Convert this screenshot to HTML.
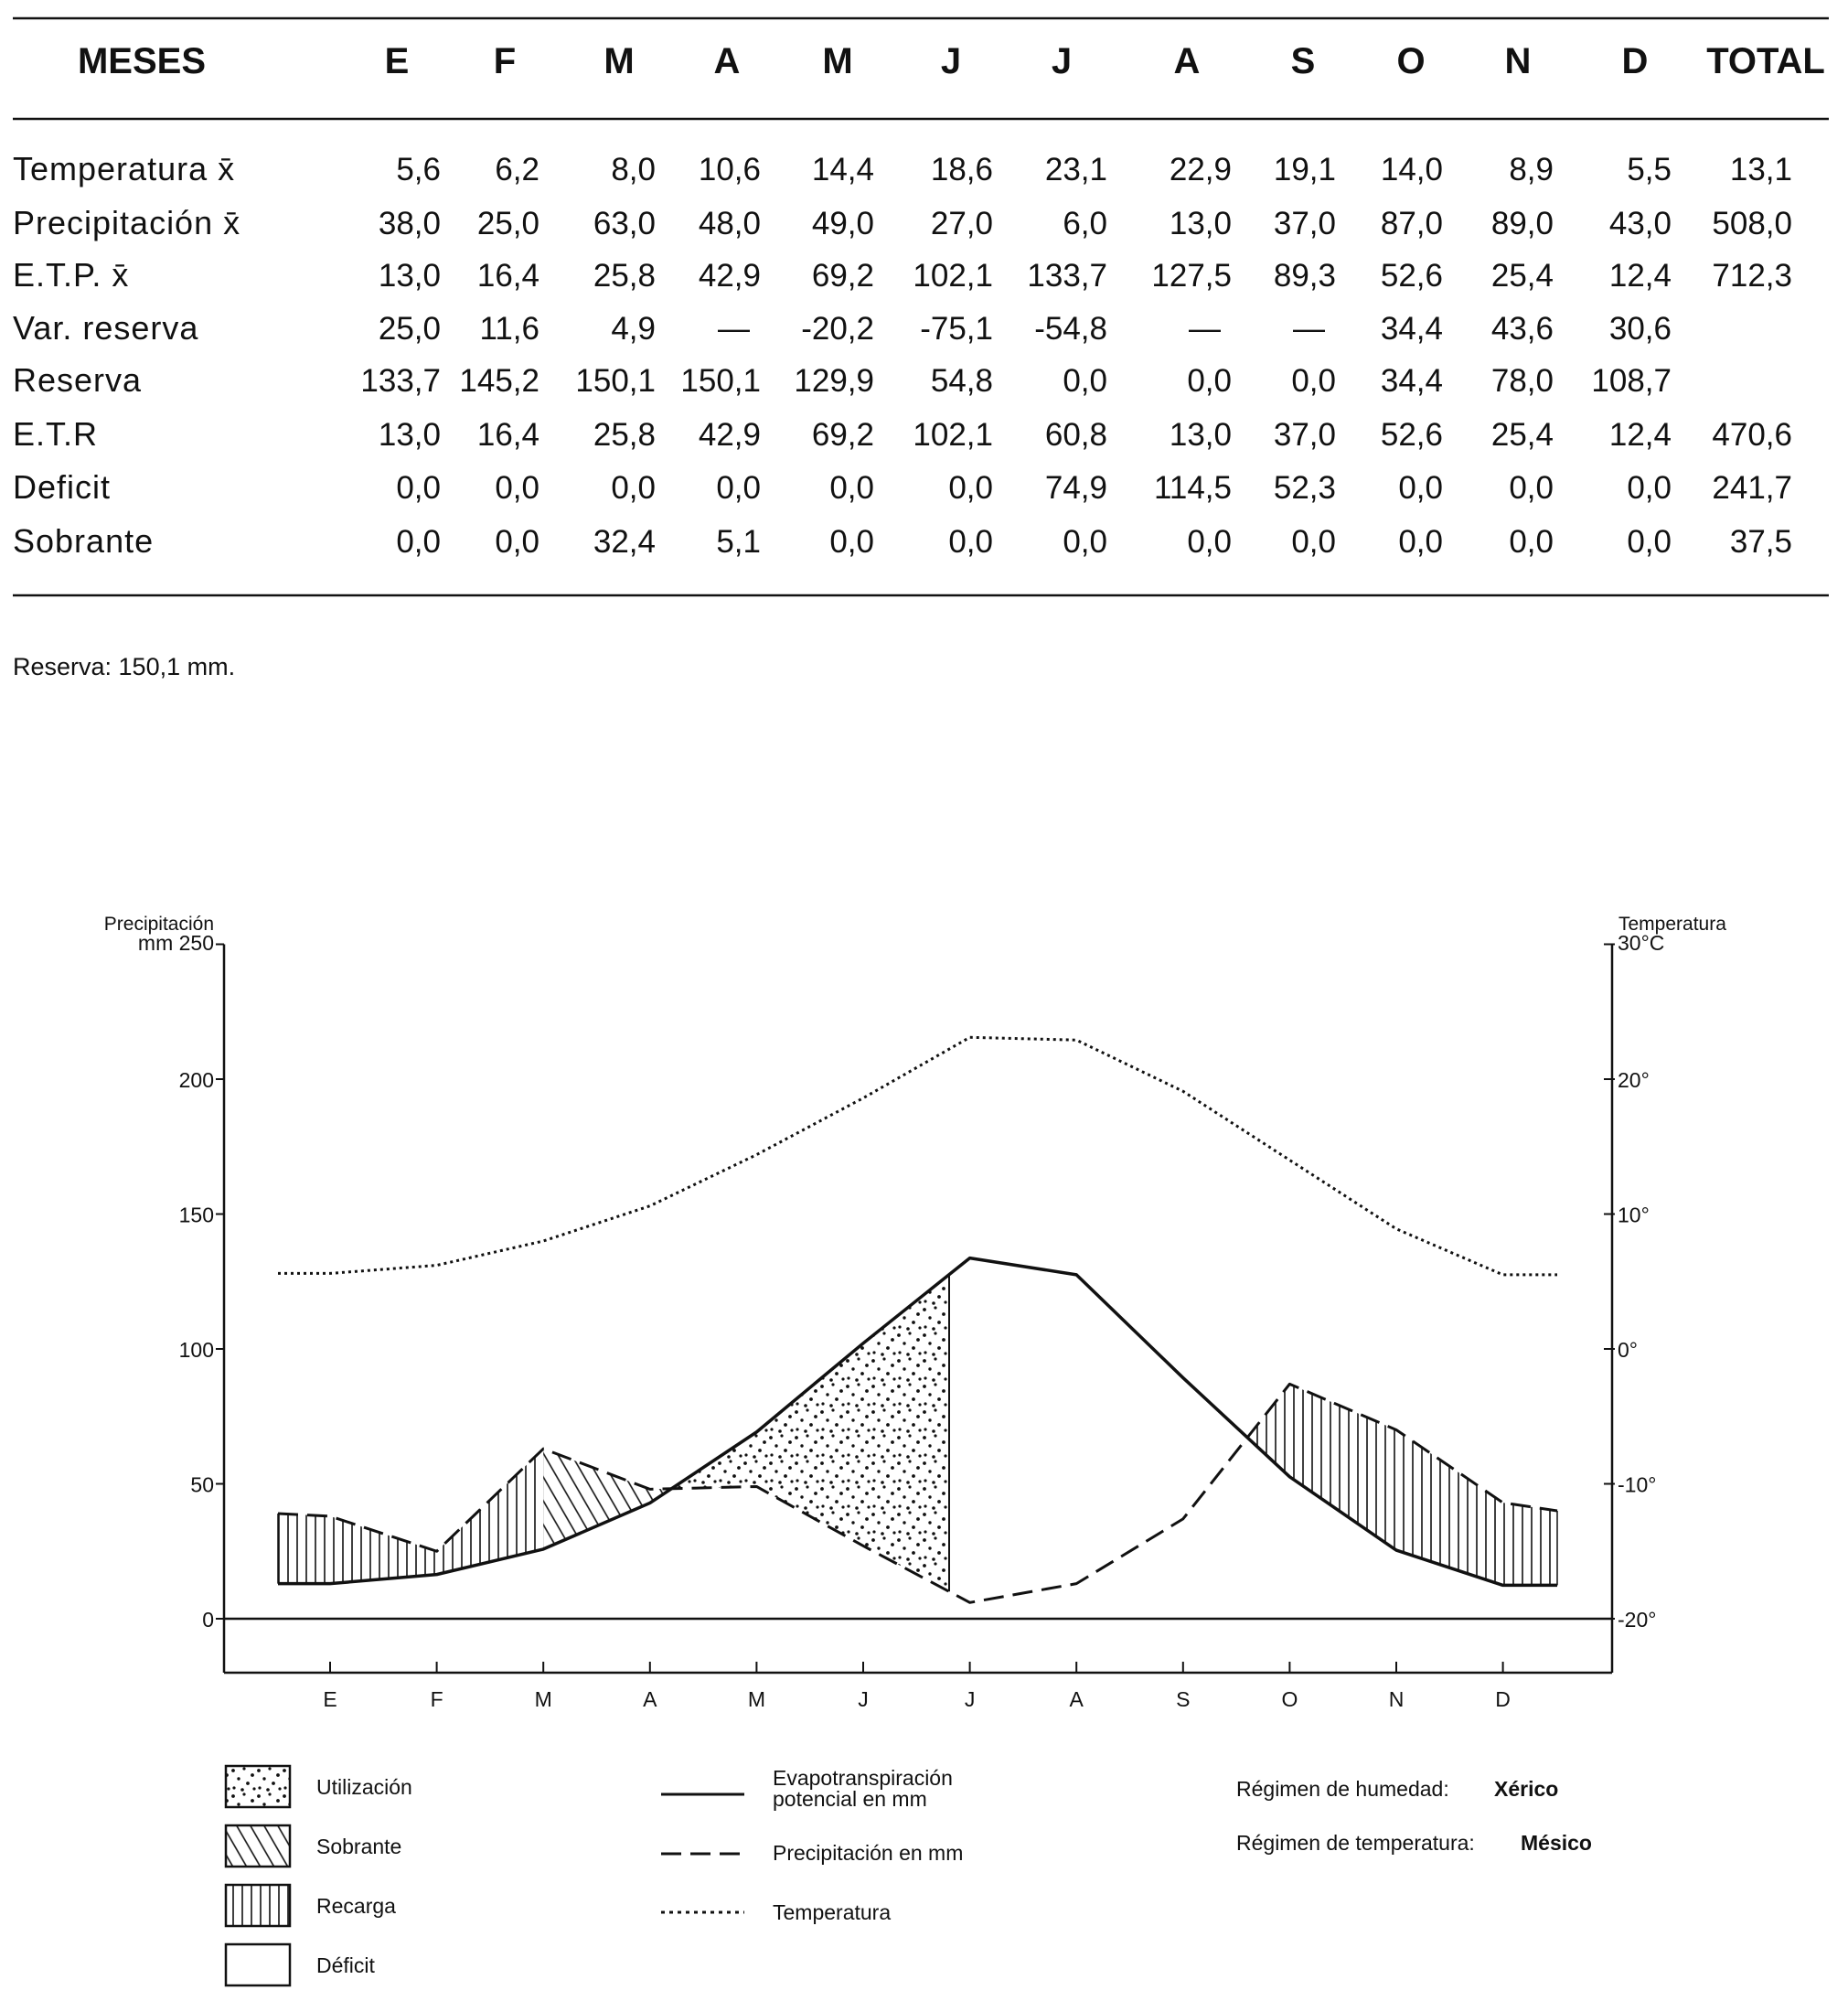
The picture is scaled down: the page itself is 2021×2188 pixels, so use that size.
<!DOCTYPE html>
<html><head><meta charset="utf-8">
<style>
html,body{margin:0;padding:0;background:#fff;}
svg{display:block;}
.t{font-family:"Liberation Sans",sans-serif;font-size:35px;fill:#111;}
.h{font-family:"Liberation Sans",sans-serif;font-size:40px;font-weight:bold;fill:#111;}
.s{font-family:"Liberation Sans",sans-serif;font-size:23px;fill:#111;}
.sb{font-family:"Liberation Sans",sans-serif;font-size:23px;font-weight:bold;fill:#111;}
</style></head>
<body>
<svg id="c" width="2021" height="2188" viewBox="0 0 2021 2188" xmlns="http://www.w3.org/2000/svg">
<defs>
<pattern id="vh" width="10" height="10" patternUnits="userSpaceOnUse"><line x1="5" y1="0" x2="5" y2="10" stroke="#111" stroke-width="1.6"/></pattern>
<pattern id="dh" width="13" height="13" patternUnits="userSpaceOnUse" patternTransform="rotate(-30)"><line x1="6" y1="0" x2="6" y2="13" stroke="#111" stroke-width="1.6"/></pattern>
<pattern id="dt" width="28" height="28" patternUnits="userSpaceOnUse">
<circle cx="3" cy="4" r="1.9" fill="#111"/><circle cx="15" cy="2" r="1.6" fill="#111"/><circle cx="24" cy="9" r="1.9" fill="#111"/><circle cx="9" cy="13" r="1.7" fill="#111"/><circle cx="19" cy="18" r="1.9" fill="#111"/><circle cx="4" cy="23" r="1.6" fill="#111"/><circle cx="13" cy="25" r="1.8" fill="#111"/><circle cx="26" cy="24" r="1.6" fill="#111"/>
</pattern>
</defs>
<g id="g"></g>
</svg>
<script>
var g=document.getElementById('g');var NS="http://www.w3.org/2000/svg";
function el(n,a,txt){var e=document.createElementNS(NS,n);for(var k in a)e.setAttribute(k,a[k]);if(txt!==undefined)e.textContent=txt;g.appendChild(e);return e;}
function tx(x,y,s,cls,anc){return el('text',{x:x,y:y,'class':cls,'text-anchor':anc||'start'},s);}
el('line',{x1:14,y1:20,x2:2000,y2:20,stroke:'#111','stroke-width':2.5});
el('line',{x1:14,y1:130,x2:2000,y2:130,stroke:'#111','stroke-width':2.5});
el('line',{x1:14,y1:651,x2:2000,y2:651,stroke:'#111','stroke-width':2.5});
tx(155,80,'MESES','h','middle');
var hx=[434,552,677,795,916,1040,1161,1298,1425,1543,1660,1788];
var hl=['E','F','M','A','M','J','J','A','S','O','N','D'];
for(var i=0;i<12;i++)tx(hx[i],80,hl[i],'h','middle');
tx(1931,80,'TOTAL','h','middle');
var cx=[482,590,717,832,956,1086,1211,1347,1461,1578,1699,1828,1960];
var rows=[
['Temperatura x\u0304','5,6 6,2 8,0 10,6 14,4 18,6 23,1 22,9 19,1 14,0 8,9 5,5 13,1'],
['Precipitación x\u0304','38,0 25,0 63,0 48,0 49,0 27,0 6,0 13,0 37,0 87,0 89,0 43,0 508,0'],
['E.T.P. x\u0304','13,0 16,4 25,8 42,9 69,2 102,1 133,7 127,5 89,3 52,6 25,4 12,4 712,3'],
['Var. reserva','25,0 11,6 4,9 — -20,2 -75,1 -54,8 — — 34,4 43,6 30,6'],
['Reserva','133,7 145,2 150,1 150,1 129,9 54,8 0,0 0,0 0,0 34,4 78,0 108,7'],
['E.T.R','13,0 16,4 25,8 42,9 69,2 102,1 60,8 13,0 37,0 52,6 25,4 12,4 470,6'],
['Deficit','0,0 0,0 0,0 0,0 0,0 0,0 74,9 114,5 52,3 0,0 0,0 0,0 241,7'],
['Sobrante','0,0 0,0 32,4 5,1 0,0 0,0 0,0 0,0 0,0 0,0 0,0 0,0 37,5']];
var ry=[197,256,313,371,428,487,545,604];
for(var r=0;r<rows.length;r++){var lt=tx(14,ry[r],rows[r][0],'t');lt.setAttribute('style','font-size:36px;letter-spacing:1px');var v=rows[r][1].split(' ');
for(var j=0;j<v.length;j++){var x=cx[j];if(v[j]=='—'){x-=12;}tx(x,ry[r],v[j],'t','end');}}
tx(14,738,'Reserva: 150,1 mm.','t').setAttribute('style','font-size:27px');
var L=245,R=1763,Y0=1770,k=2.95;
function Y(m){return Y0-m*k;}
function X(i){return 361+116.6*i;}
var P=[38,25,63,48,49,27,6,13,37,87,70,43];
var E=[13,16.4,25.8,42.9,69.2,102.1,133.7,127.5,89.3,52.6,25.4,12.4];
var T=[5.6,6.2,8.0,10.6,14.4,18.6,23.1,22.9,19.1,14.0,8.9,5.5].map(function(t){return 100+5*t;});
var xs=304,xe=1703;
function pts(arr,s,e){var p=[[xs,s]];for(var i=0;i<12;i++)p.push([X(i),arr[i]]);p.push([xe,e]);return p;}
var Pp=pts(P,39,40),Ep=pts(E,13,12.4),Tp=pts(T,128,127.5);
function interp(p,x){for(var i=0;i<p.length-1;i++){if(x>=p[i][0]&&x<=p[i+1][0]){var t=(x-p[i][0])/(p[i+1][0]-p[i][0]);return p[i][1]+t*(p[i+1][1]-p[i][1]);}}return p[p.length-1][1];}
function region(x0,x1,top,bot,fill){var xsArr=[];Pp.forEach(function(q){if(q[0]>x0&&q[0]<x1)xsArr.push(q[0]);});xsArr=[x0].concat(xsArr).concat([x1]);
var d='';xsArr.forEach(function(x,i){d+=(i?'L':'M')+x+','+Y(interp(top,x));});
xsArr.slice().reverse().forEach(function(x){d+='L'+x+','+Y(interp(bot,x));});d+='Z';
el('path',{d:d,fill:fill,stroke:'none'});}
var cA=X(3)+0.2*116.6, cO=X(8)+0.603*116.6, jx=1038;
region(xs,X(2),Pp,Ep,'url(#vh)');
region(X(2),cA,Pp,Ep,'url(#dh)');
region(cA,jx,Ep,Pp,'url(#dt)');
region(cO,xe,Pp,Ep,'url(#vh)');
el('line',{x1:jx,y1:Y(interp(Ep,jx)),x2:jx,y2:Y(interp(Pp,jx)),stroke:'#111','stroke-width':2});
el('line',{x1:xs,y1:Y(39),x2:xs,y2:Y(13),stroke:'#111','stroke-width':1.5});
el('line',{x1:xe,y1:Y(40),x2:xe,y2:Y(12.4),stroke:'#111','stroke-width':1.5});
function poly(p,attr){var s=p.map(function(q){return q[0]+','+Y(q[1]);}).join(' ');attr.points=s;attr.fill='none';attr.stroke='#111';attr['stroke-linejoin']='round';el('polyline',attr);}
poly(Tp,{'stroke-width':3,'stroke-dasharray':'3,4'});
poly(Pp,{'stroke-width':3,'stroke-dasharray':'22,10'});
poly(Ep,{'stroke-width':3.5});
el('line',{x1:L,y1:Y(250),x2:L,y2:1829,stroke:'#111','stroke-width':2.5});
el('line',{x1:R,y1:Y(250),x2:R,y2:1829,stroke:'#111','stroke-width':2.5});
el('line',{x1:L,y1:1829,x2:R,y2:1829,stroke:'#111','stroke-width':2.5});
el('line',{x1:L,y1:Y0,x2:R,y2:Y0,stroke:'#111','stroke-width':2.5});
for(var m=0;m<=250;m+=50){el('line',{x1:L-9,y1:Y(m),x2:L,y2:Y(m),stroke:'#111','stroke-width':2});el('line',{x1:R-9,y1:Y(m),x2:R+3,y2:Y(m),stroke:'#111','stroke-width':2});}
[200,150,100,50,0].forEach(function(m){tx(234,Y(m)+9,''+m,'s','end');});
['20°','10°','0°','-10°','-20°'].forEach(function(s,i){tx(1769,Y(200-50*i)+9,s,'s');});
tx(234,1017,'Precipitación','s','end').setAttribute('style','font-size:21px');
tx(234,1039,'mm 250','s','end');
tx(1770,1017,'Temperatura','s').setAttribute('style','font-size:21px');
tx(1769,1039,'30°C','s');
for(var i=0;i<12;i++){el('line',{x1:X(i),y1:1829,x2:X(i),y2:1817,stroke:'#111','stroke-width':2});tx(X(i),1866,hl[i],'s','middle');}
var by=[1931,1996,2061,2126],fills=['url(#dt)','url(#dh)','url(#vh)','#fff'],lab=['Utilización','Sobrante','Recarga','Déficit'];
for(var i=0;i<4;i++){el('rect',{x:247,y:by[i],width:70,height:45,fill:'#fff',stroke:'none'});el('rect',{x:247,y:by[i],width:70,height:45,fill:fills[i],stroke:'#111','stroke-width':2.5});tx(346,by[i]+31,lab[i],'s');}
el('line',{x1:723,y1:1962,x2:814,y2:1962,stroke:'#111','stroke-width':3});
el('line',{x1:723,y1:2027,x2:814,y2:2027,stroke:'#111','stroke-width':3,'stroke-dasharray':'22,10'});
el('line',{x1:723,y1:2091,x2:814,y2:2091,stroke:'#111','stroke-width':3,'stroke-dasharray':'4,5'});
tx(845,1952,'Evapotranspiración','s');tx(845,1975,'potencial en mm','s');
tx(845,2034,'Precipitación en mm','s');tx(845,2099,'Temperatura','s');
tx(1352,1964,'Régimen de humedad:','s');tx(1634,1964,'Xérico','sb');
tx(1352,2023,'Régimen de temperatura:','s');tx(1663,2023,'Mésico','sb');
</script>
</body></html>
